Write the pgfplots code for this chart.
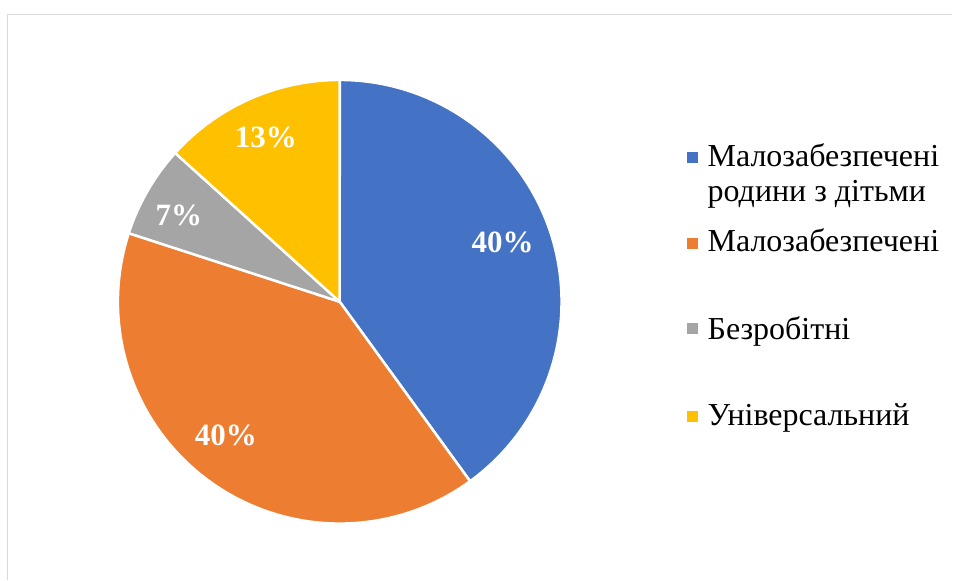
\documentclass[border=0pt]{standalone}
\usepackage{fontspec}
\setmainfont{Liberation Serif}
\usepackage{pgfplots}
\usepackage{pgfplotstable}
\pgfplotsset{compat=1.18}

\definecolor{cBlue}{HTML}{4472C4}
\definecolor{cOrange}{HTML}{ED7D31}
\definecolor{cGray}{HTML}{A5A5A5}
\definecolor{cGold}{HTML}{FFC000}
\definecolor{cFrame}{HTML}{D9D9D9}

% shares in percent, clockwise from 12 o'clock
\pgfplotstableread{
group share
1 40.0
2 40.0
3 6.7
4 13.3
}\piedata

\newcommand\labfont{\fontsize{31}{36}\selectfont}
\newcommand\legfont{\fontsize{32}{36}\selectfont}

\begin{document}
\begin{tikzpicture}
\pgfplotstablegetelem{0}{share}\of\piedata\pgfmathsetmacro\sA{\pgfplotsretval}
\pgfplotstablegetelem{1}{share}\of\piedata\pgfmathsetmacro\sB{\pgfplotsretval}
\pgfplotstablegetelem{2}{share}\of\piedata\pgfmathsetmacro\sC{\pgfplotsretval}
\pgfplotstablegetelem{3}{share}\of\piedata\pgfmathsetmacro\sD{\pgfplotsretval}
\pgfmathsetmacro\aA{90}
\pgfmathsetmacro\aB{\aA-3.6*\sA}
\pgfmathsetmacro\aC{\aB-3.6*\sB}
\pgfmathsetmacro\aD{\aC-3.6*\sC}
\pgfmathsetmacro\aE{\aD-3.6*\sD}
\begin{axis}[
    width=953pt, height=580pt,
    scale only axis,
    xmin=0, xmax=953, ymin=0, ymax=580,
    hide axis, clip=false,
    samples=90,
    wedge/.style={draw=white, line width=2.5pt, line join=round},
]
\path (axis cs:0,0) rectangle (axis cs:953,580);
\draw[cFrame, line width=1.5pt] (axis cs:7.5,0) -- (axis cs:7.5,565.5) -- (axis cs:953,565.5);

\addplot[wedge, fill=cBlue,   domain=\aB:\aA] ({340+222*cos(x)},{278+222*sin(x)}) -- (axis cs:340,278) -- cycle;
\addplot[wedge, fill=cOrange, domain=\aC:\aB] ({340+222*cos(x)},{278+222*sin(x)}) -- (axis cs:340,278) -- cycle;
\addplot[wedge, fill=cGray,   domain=\aD:\aC] ({340+222*cos(x)},{278+222*sin(x)}) -- (axis cs:340,278) -- cycle;
\addplot[wedge, fill=cGold,   domain=\aE:\aD] ({340+222*cos(x)},{278+222*sin(x)}) -- (axis cs:340,278) -- cycle;

\begin{scope}[every node/.style={text=white, font=\labfont\bfseries, inner sep=0pt}]
\node at (axis cs:503,337) {40\%};
\node at (axis cs:226,144) {40\%};
\node at (axis cs:179,364) {7\%};
\node at (axis cs:266,442) {13\%};
\end{scope}

% legend
\addplot[only marks, mark=square*, mark size=5pt, color=cBlue]   coordinates {(693,423)};
\addplot[only marks, mark=square*, mark size=5pt, color=cOrange] coordinates {(693,337)};
\addplot[only marks, mark=square*, mark size=5pt, color=cGray]   coordinates {(693,252)};
\addplot[only marks, mark=square*, mark size=5pt, color=cGold]   coordinates {(693,163)};
\begin{scope}[every node/.style={anchor=base west, font=\legfont, inner sep=0pt}]
\node at (axis cs:708,413) {Малозабезпечені};
\node at (axis cs:708,378) {родини з дітьми};
\node at (axis cs:708,328) {Малозабезпечені};
\node at (axis cs:708,240) {Безробітні};
\node at (axis cs:708,154) {Універсальний};
\end{scope}
\end{axis}
\end{tikzpicture}
\end{document}
